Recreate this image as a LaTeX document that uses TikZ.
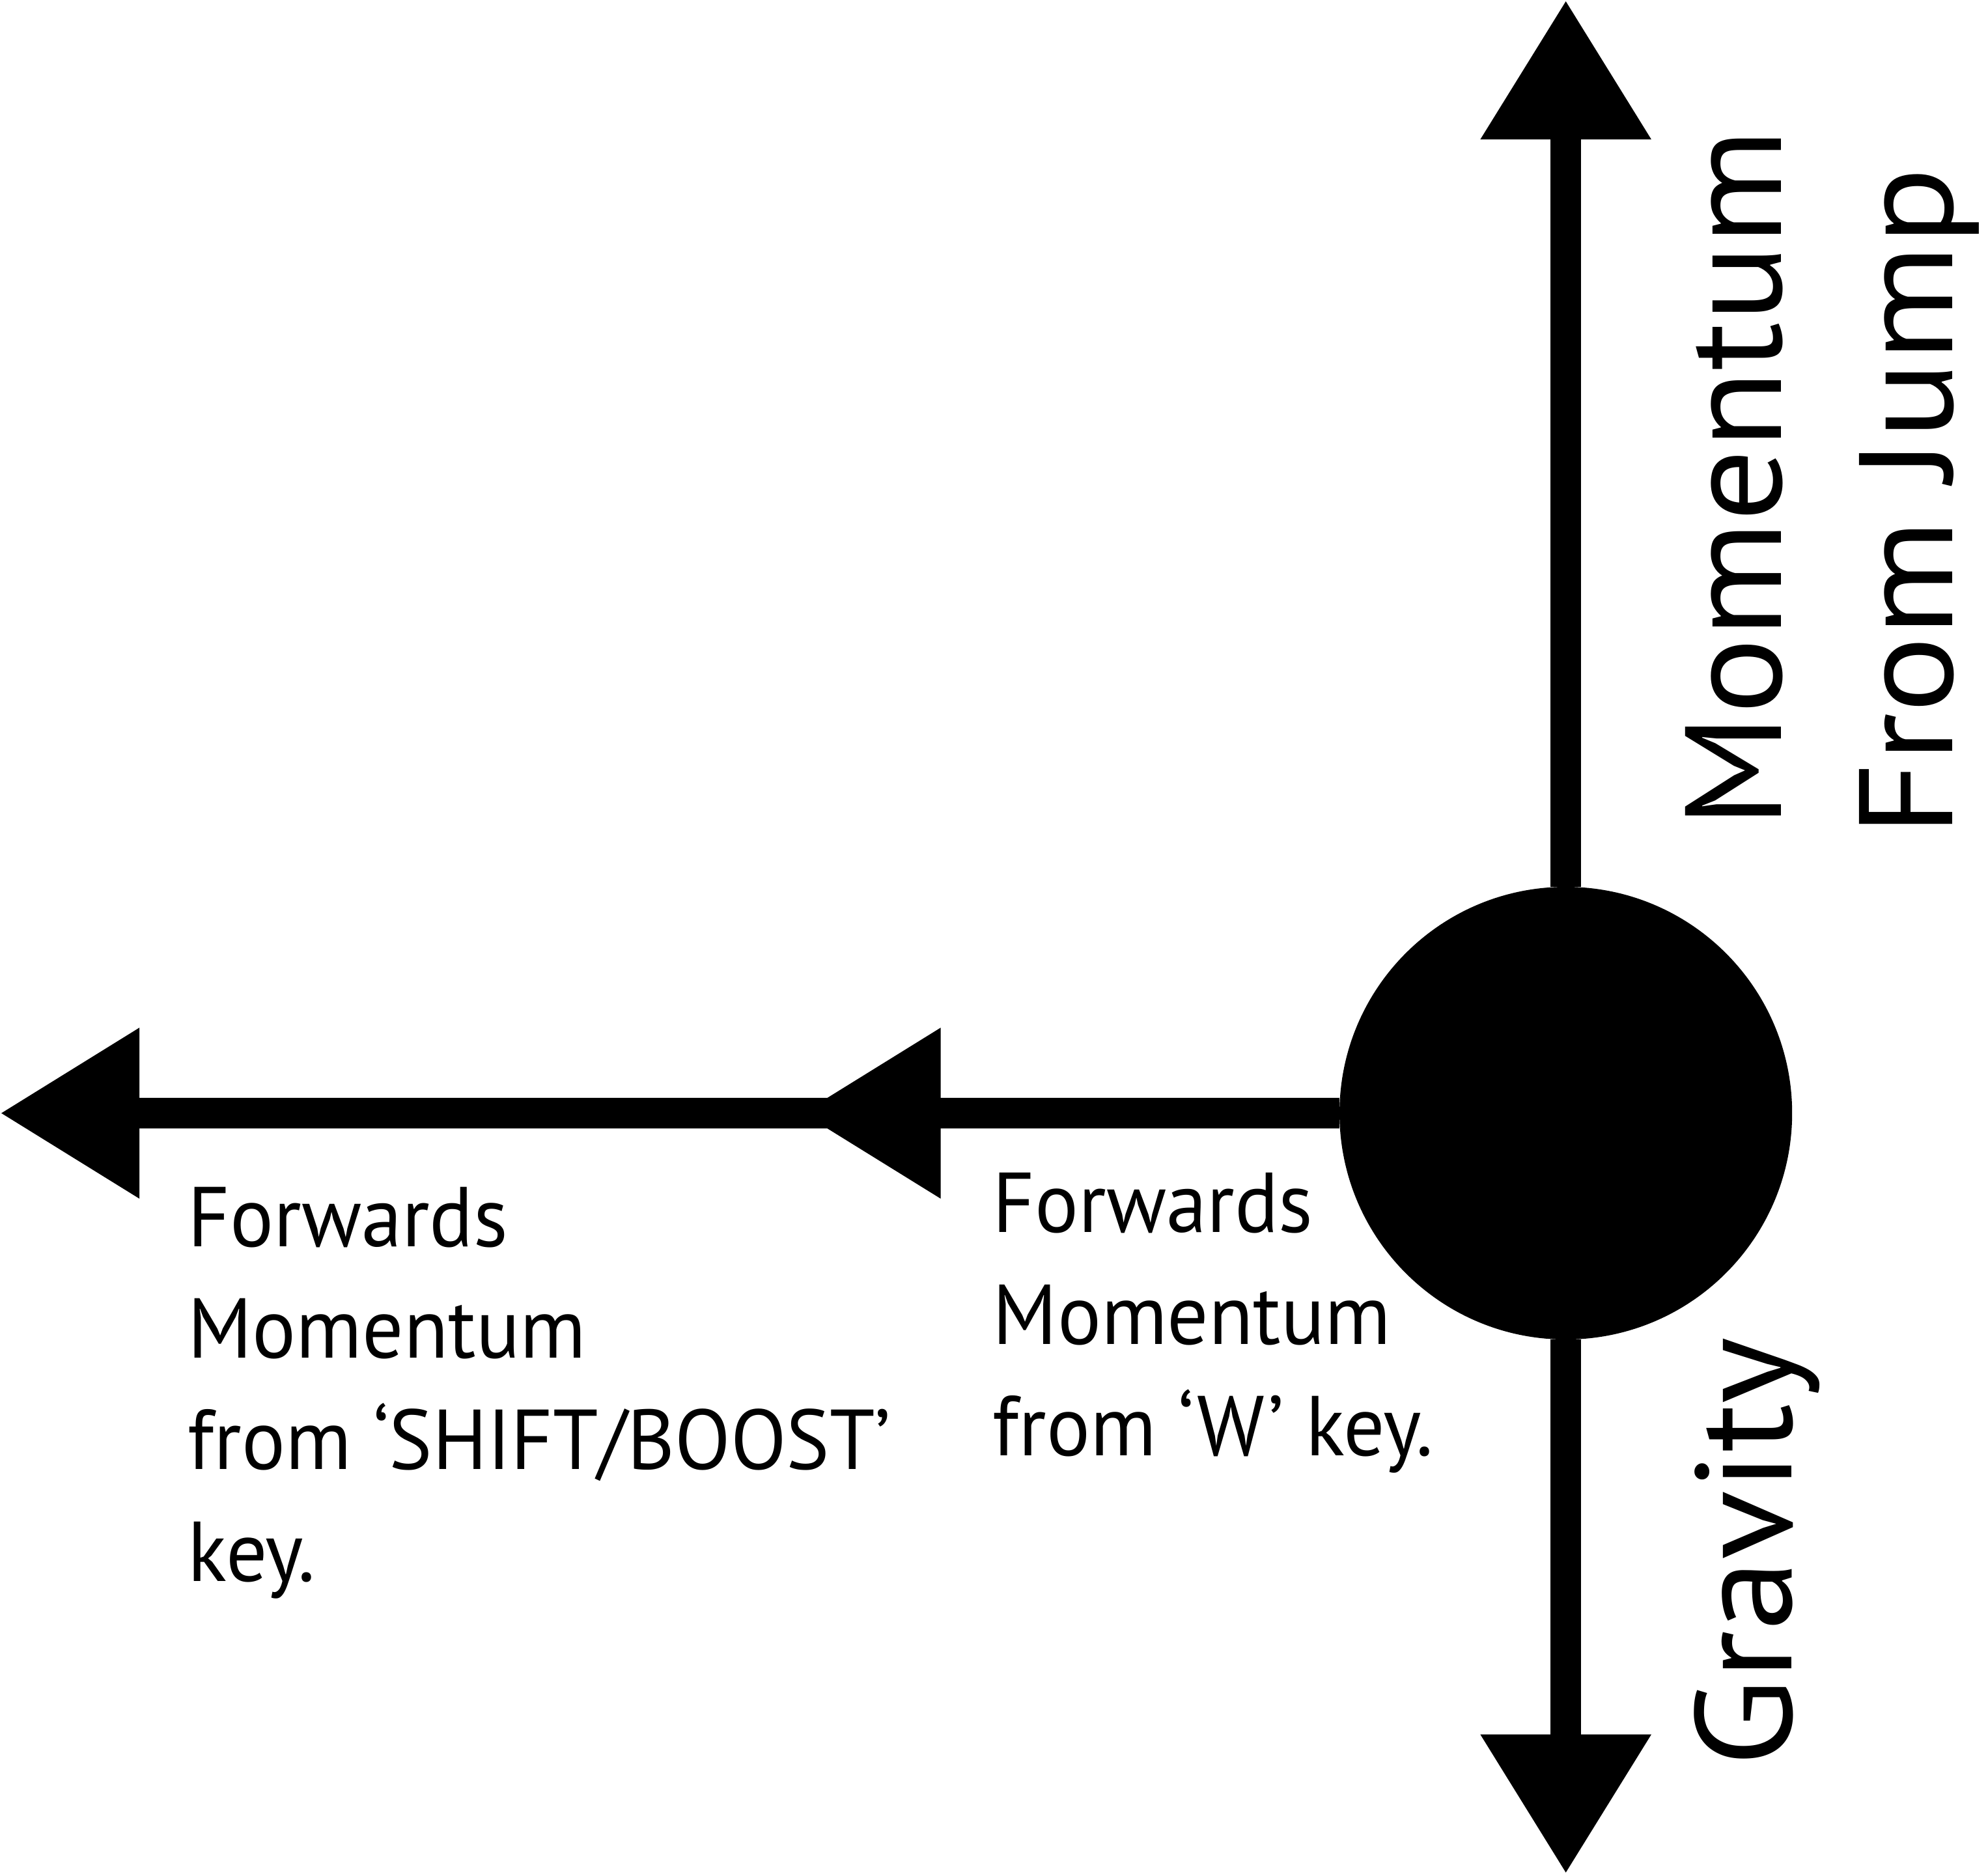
\documentclass[tikz,border=0pt]{standalone}
\usepackage{fontspec}
\setmainfont{PT Sans}
\newfontfamily\labelfont[FakeStretch=0.96]{PT Sans}
\newfontfamily\axisfont[FakeStretch=1.045]{PT Sans}
\newfontfamily\axisfontwide[FakeStretch=1.08]{PT Sans}
\usetikzlibrary{arrows.meta}
\begin{document}
\begin{tikzpicture}[x=1pt,y=-1pt,
  arr/.style={line width=24pt,-{Triangle[width=128pt,length=110pt]}},
  ball/.style={circle,fill=black,draw=none,minimum size=357pt,inner sep=0pt},
  smalltext/.style={font=\labelfont\fontsize{67}{88}\selectfont,align=left,inner sep=0pt,anchor=north west},
  bigtext/.style={font=\axisfont\fontsize{108}{130}\selectfont,inner sep=0pt,rotate=90,anchor=base west}]
\useasboundingbox (0,0) rectangle (1568,1478);
\node[ball] (c) at (1235,878) {};
\coordinate (top) at (1235,0);
\coordinate (bot) at (1235,1478);
\coordinate (left) at (0,878);
\coordinate (mid) at (632,878);
\draw[arr] (c.north) -- (top);
\draw[arr] (c.south) -- (bot);
\draw[arr] (c.west) -- (left);
\draw[arr] (c.west) -- (mid);
\node[smalltext] (t1) at (148,936) {Forwards\\Momentum\\from ‘SHIFT/BOOST’\\key.};
\node[smalltext] (t2) at (783,925) {Forwards\\Momentum\\from ‘W’ key.};
\node[bigtext] (t3) at (1405,653) {Momentum};
\node[bigtext,font=\axisfontwide\fontsize{105}{130}\selectfont] (t4) at (1540,660) {From Jump};
\node[bigtext] (t5) at (1413,1394) {Gravity};
\end{tikzpicture}
\end{document}
